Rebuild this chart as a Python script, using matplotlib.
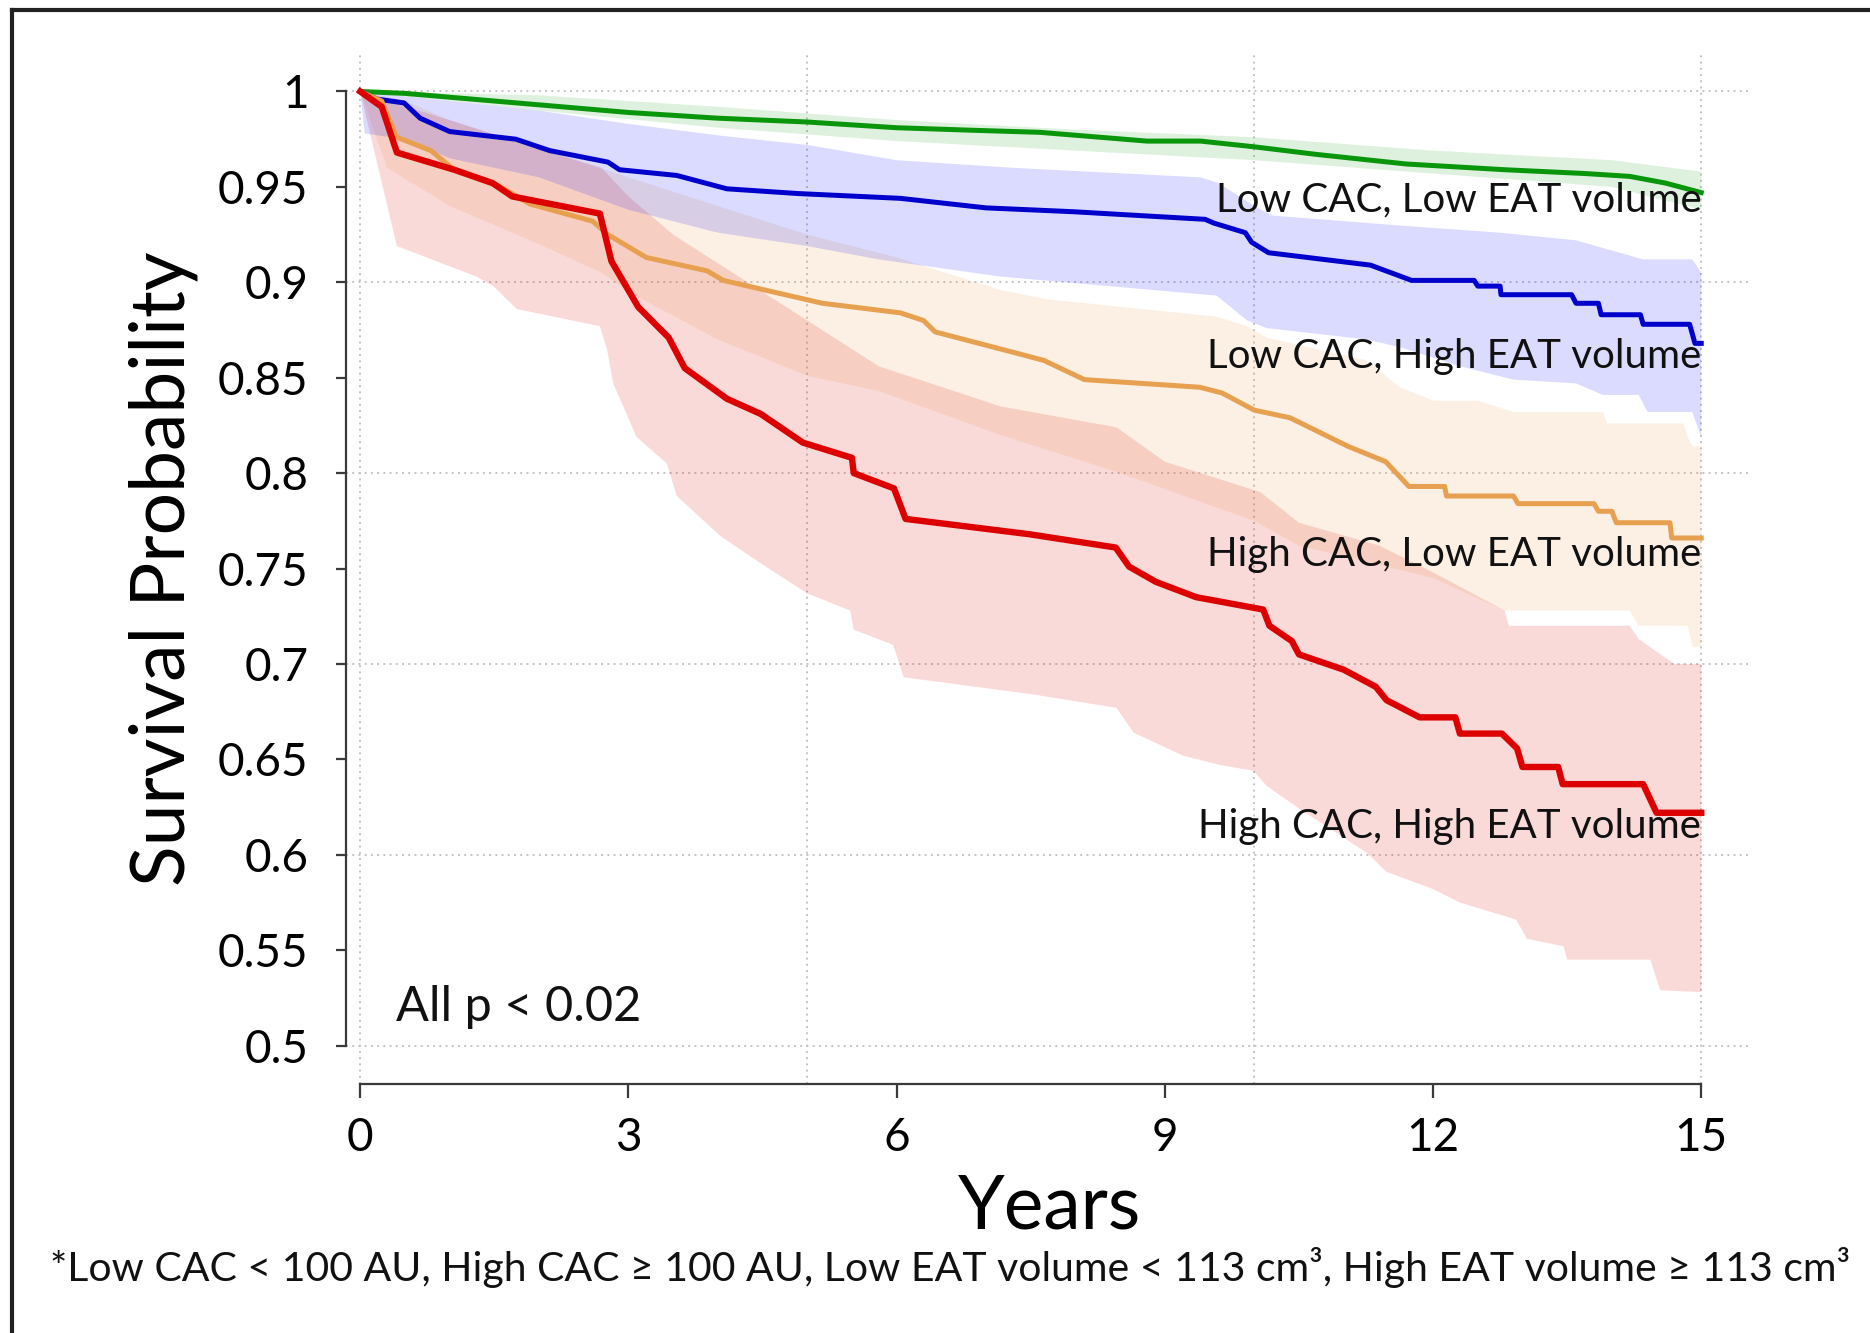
import numpy as np
import matplotlib.pyplot as plt
from matplotlib.lines import Line2D

# --- data ---
# Low CAC, Low EAT volume
green_x = [0, 0.5, 1, 1.5, 2, 3, 4, 5, 6, 6.9, 7.6, 8.8, 9.4, 10, 10.7, 11.7, 12.8, 13.7, 14.2, 14.6, 15]
green_y = [1, 0.999, 0.997, 0.995, 0.993, 0.989, 0.986, 0.984, 0.981, 0.9796, 0.9786, 0.974, 0.974,
           0.971, 0.967, 0.962, 0.959, 0.957, 0.9555, 0.952, 0.947]
green_up_x = [0, 2, 4, 6, 8, 10, 12, 14, 15]
green_up_y = [1, 0.998, 0.992, 0.985, 0.980, 0.976, 0.969, 0.964, 0.958]
green_lo_x = [0, 1, 2, 4, 6, 8, 10, 12, 14, 15]
green_lo_y = [1, 0.995, 0.99, 0.981, 0.974, 0.969, 0.964, 0.957, 0.95, 0.938]

# Low CAC, High EAT volume
blue_x = [0, 0.19, 0.49, 0.67, 1.0, 1.74, 2.12, 2.77, 2.9, 3.54, 4.1, 4.9, 6.04, 7.0, 7.97, 9.45, 9.55,
          9.9, 9.97, 10.16, 11.3, 11.76, 12.46, 12.5, 12.75, 12.76, 13.55, 13.6, 13.85, 13.88, 14.32,
          14.35, 14.87, 14.93, 15]
blue_y = [1, 0.996, 0.994, 0.986, 0.979, 0.975, 0.969, 0.963, 0.959, 0.956, 0.949, 0.9465, 0.944, 0.939,
          0.937, 0.933, 0.931, 0.926, 0.921, 0.9155, 0.909, 0.901, 0.901, 0.898, 0.898, 0.8935, 0.8935,
          0.889, 0.889, 0.883, 0.883, 0.878, 0.878, 0.868, 0.868]
blue_up_x = [0, 1, 2, 3, 4, 5, 6, 7.3, 9.4, 9.6, 10, 10.2, 11.56, 12.75, 13.6, 14.35, 14.9, 15]
blue_up_y = [1, 0.995, 0.99, 0.983, 0.977, 0.972, 0.964, 0.960, 0.955, 0.952, 0.94, 0.935, 0.930,
             0.926, 0.922, 0.912, 0.912, 0.905]
blue_lo_x = [0, 0.05, 0.5, 1, 2, 3, 4, 5, 5.8, 7.16, 9.58, 9.92, 10.14, 11.26, 11.63, 12.3, 12.9, 13.6,
             13.9, 14.3, 14.4, 14.9, 15]
blue_lo_y = [1, 0.978, 0.975, 0.965, 0.955, 0.938, 0.926, 0.919, 0.912, 0.903, 0.893, 0.880, 0.876,
             0.870, 0.866, 0.856, 0.849, 0.847, 0.841, 0.841, 0.832, 0.832, 0.819]

# High CAC, Low EAT volume
orange_x = [0, 0.24, 0.41, 0.79, 1.05, 1.57, 1.9, 2.6, 2.77, 3.2, 3.88, 4.06, 5.17, 6.04, 6.3, 6.43, 7.33,
            7.65, 8.1, 9.39, 9.64, 10.0, 10.4, 11.05, 11.47, 11.73, 12.13, 12.15, 12.9, 12.95, 13.8,
            13.85, 14.0, 14.05, 14.65, 14.67, 15]
orange_y = [1, 0.995, 0.976, 0.969, 0.959, 0.95, 0.941, 0.932, 0.925, 0.913, 0.906, 0.901, 0.889, 0.884,
            0.88, 0.874, 0.863, 0.859, 0.849, 0.845, 0.842, 0.833, 0.829, 0.814, 0.806, 0.793, 0.793,
            0.788, 0.788, 0.784, 0.784, 0.780, 0.780, 0.774, 0.774, 0.766, 0.766]
orange_up_x = [0, 0.5, 1, 2, 3, 4, 5, 6, 7.16, 7.7, 9.58, 9.92, 10.14, 11.26, 11.63, 12.0, 12.5, 12.9,
               13.9, 13.95, 14.8, 14.85, 14.9, 15]
orange_up_y = [1, 0.995, 0.985, 0.97, 0.955, 0.94, 0.925, 0.913, 0.896, 0.891, 0.882, 0.877, 0.871,
               0.859, 0.845, 0.838, 0.838, 0.832, 0.832, 0.826, 0.826, 0.819, 0.814, 0.814]
orange_lo_x = [0, 0.3, 1, 2, 2.7, 3, 4, 5, 5.8, 7.16, 8.5, 10, 10.5, 11.4, 12, 12.8, 14.2, 14.3, 14.85,
               14.9, 15]
orange_lo_y = [1, 0.96, 0.94, 0.92, 0.905, 0.895, 0.87, 0.851, 0.843, 0.82, 0.80, 0.775, 0.762, 0.752,
               0.745, 0.728, 0.728, 0.72, 0.72, 0.709, 0.709]

# High CAC, High EAT volume
red_x = [0, 0.24, 0.41, 1.05, 1.48, 1.7, 2.68, 2.81, 3.11, 3.45, 3.63, 4.1, 4.48, 4.95, 5.5, 5.52, 5.97,
         6.1, 7.48, 8.45, 8.6, 8.9, 9.35, 10.1, 10.17, 10.42, 10.5, 11.0, 11.36, 11.48, 11.85, 12.25,
         12.3, 12.77, 12.94, 13.0, 13.4, 13.45, 14.35, 14.5, 15]
red_y = [1, 0.992, 0.968, 0.959, 0.952, 0.945, 0.936, 0.911, 0.887, 0.871, 0.855, 0.839, 0.831, 0.816,
         0.808, 0.80, 0.792, 0.776, 0.768, 0.761, 0.751, 0.743, 0.735, 0.7285, 0.72, 0.712, 0.705, 0.697,
         0.688, 0.681, 0.672, 0.672, 0.6635, 0.6635, 0.6557, 0.646, 0.646, 0.637, 0.637, 0.622, 0.622]
red_up_x = [0, 0.3, 1, 2, 2.7, 3, 3.5, 4, 5, 5.8, 7.16, 8.46, 9, 10.07, 10.5, 11.4, 12, 12.8, 12.85,
            14.2, 14.3, 14.7, 15]
red_up_y = [1, 0.995, 0.985, 0.97, 0.96, 0.945, 0.925, 0.91, 0.88, 0.856, 0.835, 0.824, 0.806, 0.79,
            0.774, 0.762, 0.748, 0.728, 0.72, 0.72, 0.713, 0.70, 0.70]
red_lo_x = [0, 0.15, 0.41, 1.3, 1.49, 1.75, 2.68, 2.76, 2.83, 3.09, 3.43, 3.54, 4.03, 4.47, 5.0, 5.48,
            5.52, 5.96, 6.08, 7.53, 8.46, 8.65, 9.2, 9.62, 9.99, 10.14, 10.51, 11.26, 11.48, 12.0, 12.3,
            12.93, 13.05, 13.46, 13.5, 14.43, 14.54, 15]
red_lo_y = [1, 0.97, 0.919, 0.903, 0.898, 0.886, 0.877, 0.865, 0.847, 0.819, 0.805, 0.788, 0.767, 0.753,
            0.737, 0.728, 0.718, 0.71, 0.693, 0.684, 0.677, 0.664, 0.652, 0.647, 0.644, 0.636, 0.624,
            0.601, 0.591, 0.582, 0.575, 0.566, 0.556, 0.552, 0.545, 0.545, 0.529, 0.528]

labels = ["Low CAC, Low EAT volume", "Low CAC, High EAT volume",
          "High CAC, Low EAT volume", "High CAC, High EAT volume"]
label_y = [0.943, 0.861, 0.7575, 0.615]

x_ticks = [0, 3, 6, 9, 12, 15]
y_ticks = [0.5, 0.55, 0.6, 0.65, 0.7, 0.75, 0.8, 0.85, 0.9, 0.95, 1.0]
y_ticklabels = ["0.5", "0.55", "0.6", "0.65", "0.7", "0.75", "0.8", "0.85", "0.9", "0.95", "1"]
grid_x = [0, 5, 10, 15]
grid_y = [0.5, 0.6, 0.7, 0.8, 0.9, 1.0]

FONT = ['Lato', 'DejaVu Sans']
plt.rcParams['font.family'] = FONT

fig = plt.figure(figsize=(18.7, 13.33), dpi=100)
ax = fig.add_axes([0.185, 0.187, 0.752, 0.772])

# grid
for gy in grid_y:
    ax.axhline(gy, color='#c4c4c4', lw=1.4, ls=(0, (1.0, 2.2)), zorder=0)
for gx in grid_x:
    ax.axvline(gx, color='#c4c4c4', lw=1.4, ls=(0, (1.0, 2.2)), zorder=0)

# confidence bands
def band(xu, yu, xl, yl, color, alpha):
    px = np.concatenate([xu, xl[::-1]])
    py = np.concatenate([yu, yl[::-1]])
    ax.fill(px, py, color=color, alpha=alpha, lw=0, zorder=1)

band(np.array(red_up_x), np.array(red_up_y), np.array(red_lo_x), np.array(red_lo_y), (0.87, 0.0, 0.0), 0.15)
band(np.array(orange_up_x), np.array(orange_up_y), np.array(orange_lo_x), np.array(orange_lo_y), (0.9, 0.59, 0.24), 0.14)
band(np.array(blue_up_x), np.array(blue_up_y), np.array(blue_lo_x), np.array(blue_lo_y), (0.0, 0.0, 1.0), 0.14)
band(np.array(green_up_x), np.array(green_up_y), np.array(green_lo_x), np.array(green_lo_y), (0.0, 0.59, 0.0), 0.13)

# survival curves
ax.plot(green_x, green_y, color='#0a960a', lw=3.6, zorder=3)
ax.plot(blue_x, blue_y, color='#0000cc', lw=3.6, zorder=3)
ax.plot(orange_x, orange_y, color='#e6a050', lw=3.6, zorder=3)
ax.plot(red_x, red_y, color='#dd0000', lw=4.6, zorder=4)

for lab, ly in zip(labels, label_y):
    ax.text(15, ly, lab, ha='right', va='center', fontsize=29, color='#111111', zorder=5)

ax.text(0.4, 0.52, "All p < 0.02", ha='left', va='center', fontsize=35, color='#111111')

ax.set_xlim(-0.16, 15.57)
ax.set_ylim(0.48, 1.0193)
ax.set_xticks(x_ticks)
ax.set_xticklabels([str(t) for t in x_ticks])
ax.set_yticks(y_ticks)
ax.set_yticklabels(y_ticklabels)

for s in ['top', 'right']:
    ax.spines[s].set_visible(False)
ax.spines['left'].set_bounds(0.5, 1.0)
ax.spines['bottom'].set_bounds(0, 15)
for s in ['left', 'bottom']:
    ax.spines[s].set_color('#3a3a3a')
    ax.spines[s].set_linewidth(1.6)

ax.tick_params(axis='y', direction='out', length=7, width=1.6, color='#3a3a3a', pad=20, labelsize=33)
ax.tick_params(axis='x', direction='out', length=10, width=1.6, color='#3a3a3a', pad=14, labelsize=33)

ax.set_ylabel("Survival Probability", fontsize=54, labelpad=14)
ax.set_xlabel("Years", fontsize=54, labelpad=10)

fig.text(0.508, 0.049, "*Low CAC < 100 AU, High CAC \u2265 100 AU, Low EAT volume < 113 cm\u00b3, High EAT volume \u2265 113 cm\u00b3",
         ha='center', va='center', fontsize=29.5, color='#111111')

# outer frame (top and left edges visible in the reference)
fig.add_artist(Line2D([0.0064, 1.0], [0.9925, 0.9925], transform=fig.transFigure, color='#222222', lw=3))
fig.add_artist(Line2D([0.0064, 0.0064], [0.0, 0.9925], transform=fig.transFigure, color='#222222', lw=3))

fig.savefig("out.png", dpi=100)
